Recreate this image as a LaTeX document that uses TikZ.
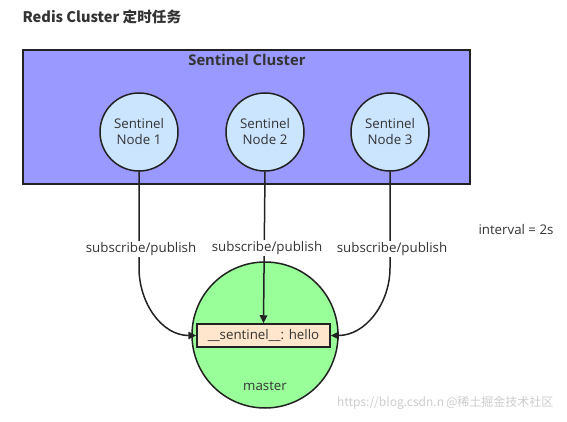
\documentclass[tikz,border=0pt]{standalone}
\usepackage{fontspec}
\setmainfont{Open Sans}
\newfontfamily\cjk{Noto Sans CJK SC}
\usetikzlibrary{arrows.meta}
\definecolor{clusterfill}{HTML}{9999FF}
\definecolor{nodefill}{HTML}{CCE5FF}
\definecolor{masterfill}{HTML}{99FF99}
\definecolor{boxfill}{HTML}{FFE6CC}
\definecolor{edge}{HTML}{222222}
\definecolor{txt}{HTML}{333333}
\tikzset{
  sentinel/.style={circle, draw=edge, line width=1.5pt, fill=nodefill, minimum size=78pt, inner sep=0pt, align=center, text=txt, font=\fontsize{13.3}{16}\selectfont},
  lbl/.style={fill=white, inner sep=1.5pt, text=txt, font=\fontsize{13.3}{16}\selectfont},
  arr/.style={draw=edge, line width=1.5pt, -{Triangle[length=8pt,width=7.5pt]}}
}
\begin{document}
\begin{tikzpicture}[x=1pt,y=-1pt]
\useasboundingbox (0,0) rectangle (567,422);
\node[anchor=west, font=\cjk\bfseries\fontsize{14.6}{17}\selectfont, text=txt] (title) at (19,17) {Redis Cluster 定时任务};
\node[draw=edge, line width=1.5pt, fill=clusterfill, minimum width=447pt, minimum height=134pt, inner sep=0pt] (cluster) at (246.5,117) {};
\node[font=\bfseries\fontsize{14.8}{17}\selectfont, text=txt] (ctitle) at (247,60) {Sentinel Cluster};
\node[sentinel] (n1) at (139,132) {Sentinel\\Node 1};
\node[sentinel] (n2) at (265,132) {Sentinel\\Node 2};
\node[sentinel] (n3) at (390,132) {Sentinel\\Node 3};
\node[circle, draw=edge, line width=1.5pt, fill=masterfill, minimum size=146pt, inner sep=0pt] (master) at (265,335) {};
\node[draw=edge, line width=1.5pt, fill=boxfill, minimum width=133pt, minimum height=23pt, inner sep=0pt, text=txt, font=\fontsize{13.3}{16}\selectfont] (box) at (263.5,335.5) {\_\_sentinel\_\_: hello};
\node[text=txt, font=\fontsize{13.3}{16}\selectfont] (mlabel) at (265,386) {master};
\draw[arr] (n1.south) -- (139,268) to[out=-90,in=180] (box.west);
\draw[arr] (n2.south) -- (box.north);
\draw[arr] (n3.south) -- (390,268) to[out=-90,in=0] (box.east);
\node[lbl] (l1) at (141,249) {subscribe/publish};
\node[lbl] (l2) at (267,248) {subscribe/publish};
\node[lbl] (l3) at (392,249) {subscribe/publish};
\node[text=txt, font=\fontsize{13.3}{16}\selectfont] (interval) at (516,230) {interval = 2s};
\node[anchor=east, text=black!20, font=\cjk\fontsize{12}{14}\selectfont] (wm) at (557,403) {https://blog.csdn.n\,@稀土掘金技术社区};
\end{tikzpicture}
\end{document}
